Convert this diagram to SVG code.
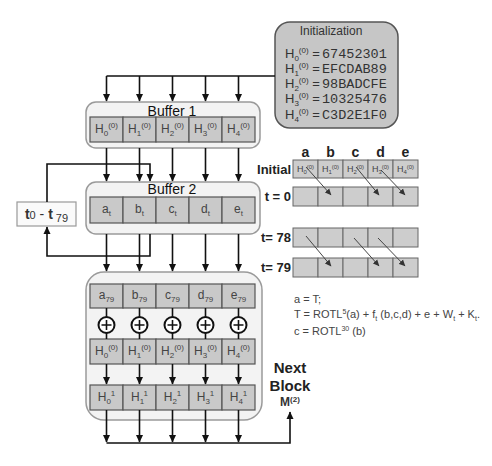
<svg xmlns="http://www.w3.org/2000/svg" width="492" height="466" viewBox="0 0 492 466">
<style>
text{font-family:"Liberation Sans",Arial,sans-serif;fill:#333}
.cell{fill:#c9c9c9;stroke:#555;stroke-width:1.2}
.tcell{fill:#cdcdcd;stroke:#666;stroke-width:1}
.buf{fill:#f3f3f3;stroke:#9a9a9a;stroke-width:1.5}
.ln{fill:none;stroke:#111;stroke-width:1.6}
.ar{fill:none;stroke:#111;stroke-width:1.6;marker-end:url(#ah)}
.dg{fill:none;stroke:#444;stroke-width:1;marker-end:url(#ahs)}
.ct{font-size:12px;text-anchor:middle;fill:#444}
.tt{font-size:9px;text-anchor:middle;fill:#444}
.bl{font-size:14px;text-anchor:middle;fill:#111}
.mono{font-family:"Liberation Mono","Courier New",monospace;font-size:13.5px;fill:#333}
.hd{font-size:14px;font-weight:bold;text-anchor:middle;fill:#222}
.rl{font-size:13px;font-weight:bold;text-anchor:end;fill:#222}
.fm{font-size:11px;fill:#444}
.nb{font-size:15px;font-weight:bold;text-anchor:middle;fill:#222}
</style>
<defs>
<marker id="ah" markerWidth="8" markerHeight="8" refX="7" refY="4" orient="auto" markerUnits="userSpaceOnUse"><path d="M0,0.5 L7.5,4 L0,7.5 Z" fill="#111"/></marker>
<marker id="ahs" markerWidth="7" markerHeight="7" refX="6" refY="3.5" orient="auto" markerUnits="userSpaceOnUse"><path d="M0,0.5 L6.5,3.5 L0,6.5 Z" fill="#333"/></marker>
</defs>

<g id="init">
<rect x="275" y="22" width="123" height="106" rx="15" fill="#c6c6c6" stroke="#555" stroke-width="1.5"/>
<text x="331" y="35" font-size="12" text-anchor="middle" fill="#444">Initialization</text>
<text x="285" y="58" font-size="13">H<tspan dy="3" font-size="8">0</tspan><tspan dy="-8" font-size="8">(0)</tspan><tspan dy="5"> = </tspan></text><text x="322" y="58" class="mono">67452301</text>
<text x="285" y="73" font-size="13">H<tspan dy="3" font-size="8">1</tspan><tspan dy="-8" font-size="8">(0)</tspan><tspan dy="5"> = </tspan></text><text x="322" y="73" class="mono">EFCDAB89</text>
<text x="285" y="88" font-size="13">H<tspan dy="3" font-size="8">2</tspan><tspan dy="-8" font-size="8">(0)</tspan><tspan dy="5"> = </tspan></text><text x="322" y="88" class="mono">98BADCFE</text>
<text x="285" y="103" font-size="13">H<tspan dy="3" font-size="8">3</tspan><tspan dy="-8" font-size="8">(0)</tspan><tspan dy="5"> = </tspan></text><text x="322" y="103" class="mono">10325476</text>
<text x="285" y="119" font-size="13">H<tspan dy="3" font-size="8">4</tspan><tspan dy="-8" font-size="8">(0)</tspan><tspan dy="5"> = </tspan></text><text x="322" y="119" class="mono">C3D2E1F0</text>
</g>

<g id="buffer1">
<rect class="buf" x="86" y="102" width="174" height="46" rx="10"/>
<text class="bl" x="172" y="116">Buffer 1</text>
<rect class="cell" x="90" y="117" width="33" height="25"/><rect class="cell" x="123" y="117" width="33" height="25"/><rect class="cell" x="156" y="117" width="33" height="25"/><rect class="cell" x="189" y="117" width="33" height="25"/><rect class="cell" x="222" y="117" width="33" height="25"/>
<text class="ct" x="106.5" y="133">H<tspan dy="3" font-size="8">0</tspan><tspan dy="-8" font-size="8">(0)</tspan></text>
<text class="ct" x="139.5" y="133">H<tspan dy="3" font-size="8">1</tspan><tspan dy="-8" font-size="8">(0)</tspan></text>
<text class="ct" x="172.5" y="133">H<tspan dy="3" font-size="8">2</tspan><tspan dy="-8" font-size="8">(0)</tspan></text>
<text class="ct" x="205.5" y="133">H<tspan dy="3" font-size="8">3</tspan><tspan dy="-8" font-size="8">(0)</tspan></text>
<text class="ct" x="238.5" y="133">H<tspan dy="3" font-size="8">4</tspan><tspan dy="-8" font-size="8">(0)</tspan></text>
</g>

<g id="buffer2">
<rect class="buf" x="86" y="182" width="174" height="52" rx="10"/>
<text class="bl" x="172" y="194">Buffer 2</text>
<rect class="cell" x="90" y="197" width="33" height="26"/><rect class="cell" x="123" y="197" width="33" height="26"/><rect class="cell" x="156" y="197" width="33" height="26"/><rect class="cell" x="189" y="197" width="33" height="26"/><rect class="cell" x="222" y="197" width="33" height="26"/>
<text class="ct" x="106.5" y="213">a<tspan dy="3" font-size="8">t</tspan></text>
<text class="ct" x="139.5" y="213">b<tspan dy="3" font-size="8">t</tspan></text>
<text class="ct" x="172.5" y="213">c<tspan dy="3" font-size="8">t</tspan></text>
<text class="ct" x="205.5" y="213">d<tspan dy="3" font-size="8">t</tspan></text>
<text class="ct" x="238.5" y="213">e<tspan dy="3" font-size="8">t</tspan></text>
</g>

<g id="rounds">
<rect x="17" y="202" width="59" height="24" fill="#fafafa" stroke="#999" stroke-width="1.2"/>
<text x="46.5" y="219" font-size="14" text-anchor="middle" fill="#111"><tspan font-weight="bold">t</tspan><tspan font-size="11">0</tspan> - <tspan font-weight="bold">t</tspan><tspan font-size="11" dy="3"> 79</tspan></text>
</g>

<g id="final">
<rect class="buf" x="86" y="272" width="176" height="148" rx="18"/>
<rect class="cell" x="90" y="284" width="33" height="24"/><rect class="cell" x="123" y="284" width="33" height="24"/><rect class="cell" x="156" y="284" width="33" height="24"/><rect class="cell" x="189" y="284" width="33" height="24"/><rect class="cell" x="222" y="284" width="33" height="24"/>
<text class="ct" x="106.5" y="299">a<tspan dy="3" font-size="8">79</tspan></text>
<text class="ct" x="139.5" y="299">b<tspan dy="3" font-size="8">79</tspan></text>
<text class="ct" x="172.5" y="299">c<tspan dy="3" font-size="8">79</tspan></text>
<text class="ct" x="205.5" y="299">d<tspan dy="3" font-size="8">79</tspan></text>
<text class="ct" x="238.5" y="299">e<tspan dy="3" font-size="8">79</tspan></text>
<g fill="#fff" stroke="#111" stroke-width="2">
<circle cx="106.5" cy="325" r="8"/><circle cx="139.5" cy="325" r="8"/><circle cx="172.5" cy="325" r="8"/><circle cx="205.5" cy="325" r="8"/><circle cx="238.5" cy="325" r="8"/>
</g>
<path fill="none" stroke="#111" stroke-width="1.6" d="M101.5,325 h10 M106.5,320 v10 M134.5,325 h10 M139.5,320 v10 M167.5,325 h10 M172.5,320 v10 M200.5,325 h10 M205.5,320 v10 M233.5,325 h10 M238.5,320 v10"/>
<rect class="cell" x="90" y="339" width="33" height="25"/><rect class="cell" x="123" y="339" width="33" height="25"/><rect class="cell" x="156" y="339" width="33" height="25"/><rect class="cell" x="189" y="339" width="33" height="25"/><rect class="cell" x="222" y="339" width="33" height="25"/>
<text class="ct" x="106.5" y="355">H<tspan dy="3" font-size="8">0</tspan><tspan dy="-8" font-size="8">(0)</tspan></text>
<text class="ct" x="139.5" y="355">H<tspan dy="3" font-size="8">1</tspan><tspan dy="-8" font-size="8">(0)</tspan></text>
<text class="ct" x="172.5" y="355">H<tspan dy="3" font-size="8">2</tspan><tspan dy="-8" font-size="8">(0)</tspan></text>
<text class="ct" x="205.5" y="355">H<tspan dy="3" font-size="8">3</tspan><tspan dy="-8" font-size="8">(0)</tspan></text>
<text class="ct" x="238.5" y="355">H<tspan dy="3" font-size="8">4</tspan><tspan dy="-8" font-size="8">(0)</tspan></text>
<rect class="cell" x="90" y="385" width="33" height="25"/><rect class="cell" x="123" y="385" width="33" height="25"/><rect class="cell" x="156" y="385" width="33" height="25"/><rect class="cell" x="189" y="385" width="33" height="25"/><rect class="cell" x="222" y="385" width="33" height="25"/>
<text class="ct" x="106.5" y="401">H<tspan dy="3" font-size="8">0</tspan><tspan dy="-8" font-size="8">1</tspan></text>
<text class="ct" x="139.5" y="401">H<tspan dy="3" font-size="8">1</tspan><tspan dy="-8" font-size="8">1</tspan></text>
<text class="ct" x="172.5" y="401">H<tspan dy="3" font-size="8">2</tspan><tspan dy="-8" font-size="8">1</tspan></text>
<text class="ct" x="205.5" y="401">H<tspan dy="3" font-size="8">3</tspan><tspan dy="-8" font-size="8">1</tspan></text>
<text class="ct" x="238.5" y="401">H<tspan dy="3" font-size="8">4</tspan><tspan dy="-8" font-size="8">1</tspan></text>
</g>

<g id="table">
<text class="hd" x="305.5" y="157">a</text><text class="hd" x="330.5" y="157">b</text><text class="hd" x="355.5" y="157">c</text><text class="hd" x="380.5" y="157">d</text><text class="hd" x="405.5" y="157">e</text>
<text class="rl" x="291" y="174">Initial</text>
<text class="rl" x="291" y="201">t = 0</text>
<text class="rl" x="291" y="242">t= 78</text>
<text class="rl" x="291" y="272">t= 79</text>
<rect class="tcell" x="293" y="160" width="25" height="18"/><rect class="tcell" x="318" y="160" width="25" height="18"/><rect class="tcell" x="343" y="160" width="25" height="18"/><rect class="tcell" x="368" y="160" width="25" height="18"/><rect class="tcell" x="393" y="160" width="25" height="18"/>
<text class="tt" x="305.5" y="172">H<tspan dy="2" font-size="6">0</tspan><tspan dy="-5" font-size="6">(0)</tspan></text>
<text class="tt" x="330.5" y="172">H<tspan dy="2" font-size="6">1</tspan><tspan dy="-5" font-size="6">(0)</tspan></text>
<text class="tt" x="355.5" y="172">H<tspan dy="2" font-size="6">2</tspan><tspan dy="-5" font-size="6">(0)</tspan></text>
<text class="tt" x="380.5" y="172">H<tspan dy="2" font-size="6">3</tspan><tspan dy="-5" font-size="6">(0)</tspan></text>
<text class="tt" x="405.5" y="172">H<tspan dy="2" font-size="6">4</tspan><tspan dy="-5" font-size="6">(0)</tspan></text>
<rect class="tcell" x="293" y="187" width="25" height="19"/><rect class="tcell" x="318" y="187" width="25" height="19"/><rect class="tcell" x="343" y="187" width="25" height="19"/><rect class="tcell" x="368" y="187" width="25" height="19"/><rect class="tcell" x="393" y="187" width="25" height="19"/>
<rect class="tcell" x="293" y="228" width="25" height="19"/><rect class="tcell" x="318" y="228" width="25" height="19"/><rect class="tcell" x="343" y="228" width="25" height="19"/><rect class="tcell" x="368" y="228" width="25" height="19"/><rect class="tcell" x="393" y="228" width="25" height="19"/>
<rect class="tcell" x="293" y="258" width="25" height="19"/><rect class="tcell" x="318" y="258" width="25" height="19"/><rect class="tcell" x="343" y="258" width="25" height="19"/><rect class="tcell" x="368" y="258" width="25" height="19"/><rect class="tcell" x="393" y="258" width="25" height="19"/>
</g>

<g id="formula">
<text class="fm" x="294" y="303">a = T;</text>
<text class="fm" x="294" y="318">T = ROTL<tspan dy="-4" font-size="7">5</tspan><tspan dy="4">(a) + f</tspan><tspan dy="3" font-size="7">t</tspan><tspan dy="-3"> (b,c,d) + e + W</tspan><tspan dy="3" font-size="7">t</tspan><tspan dy="-3"> + K</tspan><tspan dy="3" font-size="7">t</tspan><tspan dy="-3">.</tspan></text>
<text class="fm" x="294" y="335">c = ROTL<tspan dy="-4" font-size="7">30</tspan><tspan dy="4"> (b)</tspan></text>
</g>

<g id="nextblock">
<text class="nb" x="290" y="373">Next</text>
<text class="nb" x="290" y="391">Block</text>
<text x="290" y="406" font-size="12" font-weight="bold" text-anchor="middle" fill="#222">M<tspan dy="-4" font-size="8">(2)</tspan></text>
</g>

<g id="connectors">
<path class="ln" d="M106.5,76 H275"/>
<path class="ar" d="M106.5,76 V101"/><path class="ar" d="M139.5,76 V101"/><path class="ar" d="M172.5,76 V101"/><path class="ar" d="M205.5,76 V101"/><path class="ar" d="M238.5,76 V101"/>
<path class="ar" d="M106.5,148 V181"/><path class="ar" d="M139.5,148 V181"/><path class="ar" d="M172.5,148 V181"/><path class="ar" d="M205.5,148 V181"/><path class="ar" d="M238.5,148 V181"/>
<path class="ar" d="M47,202 V164 H150 V181"/>
<path class="ar" d="M150,234 V256 H47 V227"/>
<path class="ar" d="M106.5,234 V271"/><path class="ar" d="M139.5,234 V271"/><path class="ar" d="M172.5,234 V271"/><path class="ar" d="M205.5,234 V271"/><path class="ar" d="M238.5,234 V271"/>
<path class="ln" d="M106.5,308 V317 M139.5,308 V317 M172.5,308 V317 M205.5,308 V317 M238.5,308 V317"/>
<path class="ln" d="M106.5,333 V339 M139.5,333 V339 M172.5,333 V339 M205.5,333 V339 M238.5,333 V339"/>
<path class="ar" d="M106.5,364 V384"/><path class="ar" d="M139.5,364 V384"/><path class="ar" d="M172.5,364 V384"/><path class="ar" d="M205.5,364 V384"/><path class="ar" d="M238.5,364 V384"/>
<path class="ar" d="M106.5,410 V442"/><path class="ar" d="M139.5,410 V442"/><path class="ar" d="M172.5,410 V442"/><path class="ar" d="M205.5,410 V442"/><path class="ar" d="M238.5,410 V442"/>
<path class="ar" d="M106.5,443 H290 V412"/>
<path class="dg" d="M306,167 L331,195"/><path class="dg" d="M356,167 L379,195"/><path class="dg" d="M381,170 L405,195"/>
<path class="dg" d="M306,236 L331,266"/><path class="dg" d="M354,238 L379,266"/><path class="dg" d="M378,238 L405,266"/>
</g>
</svg>
